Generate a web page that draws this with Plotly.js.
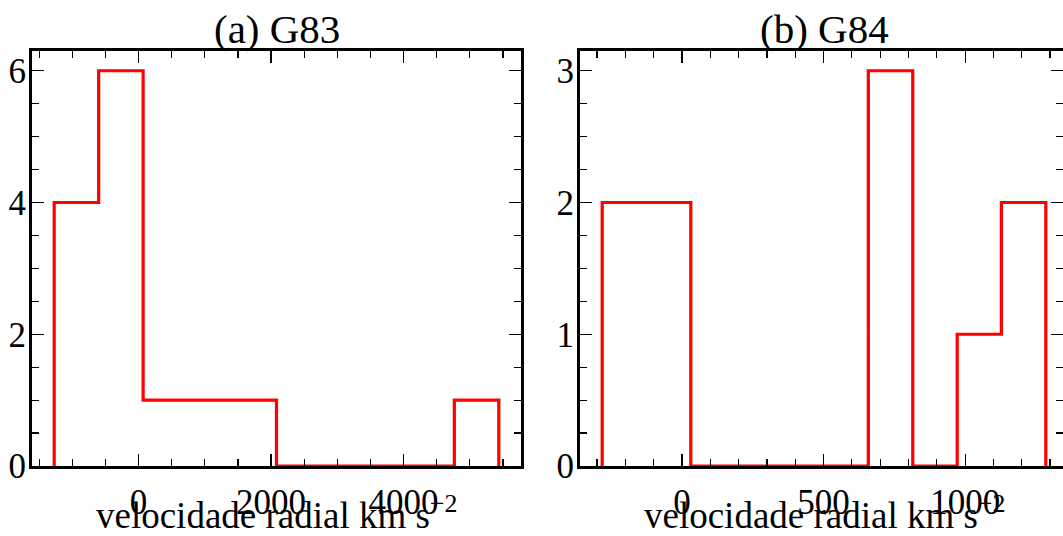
<!DOCTYPE html>
<html><head><meta charset="utf-8">
<script src="https://cdn.plot.ly/plotly-3.0.1.min.js"></script>
<style>html,body{margin:0;padding:0;background:#fff}#chart{width:1063px;height:536px}</style>
</head><body><div id="chart"></div>
<script>
// Histogram bin edges and counts
const g83Edges = [-1273, -602, 69, 740, 1411, 2082, 2753, 3424, 4095, 4766, 5437];
const g83Counts = [4, 6, 1, 1, 1, 0, 0, 0, 0, 1];
const g84Edges = [-282, -125, 31, 188, 345, 502, 658, 815, 972, 1128, 1285];
const g84Counts = [2, 2, 0, 0, 0, 0, 3, 0, 1, 2];
const panelTitles = ['(a) G83', '(b) G84'];
const xLabel = 'velocidade radial km s<sup>−2</sup>';
const g83XTicks = [0, 2000, 4000];
const g84XTicks = [0, 500, 1000];
const g83YTicks = [0, 2, 4, 6];
const g84YTicks = [0, 1, 2, 3];

function stepXY(edges, counts) {
  const x = [edges[0]], y = [0];
  for (let i = 0; i < counts.length; i++) { x.push(edges[i + 1]); y.push(counts[i]); }
  x.push(edges[edges.length - 1]); y.push(0);
  return {x, y};
}

const FONT = "'Liberation Serif', 'DejaVu Serif', serif";
const s1 = stepXY(g83Edges, g83Counts);
const s2 = stepXY(g84Edges, g84Counts);

const traces = [
  {type: 'scatter', mode: 'lines', x: s1.x, y: s1.y, xaxis: 'x', yaxis: 'y',
   line: {color: '#ff0000', width: 3.2, shape: 'vh'}, hoverinfo: 'skip'},
  {type: 'scatter', mode: 'lines', x: s2.x, y: s2.y, xaxis: 'x2', yaxis: 'y2',
   line: {color: '#ff0000', width: 3.2, shape: 'vh'}, hoverinfo: 'skip'}
];

function axisBase(extra) {
  return Object.assign({
    showline: true, linewidth: 3, linecolor: '#000', mirror: 'ticks',
    ticks: 'inside', ticklen: 12, tickwidth: 1.2, tickcolor: '#000',
    showgrid: false, zeroline: false, automargin: false,
    tickfont: {family: FONT, size: 35, color: '#000'}
  }, extra);
}
function minor(d) {
  return {ticks: 'inside', ticklen: 7, tickwidth: 1.2, tickcolor: '#000', dtick: d, tick0: 0, showgrid: false};
}

const W = 1063, H = 536;
const yDom = [(H - 466) / H, (H - 51) / H];
const c1 = (32 + 521) / 2 / W, c2 = (580 + 1068) / 2 / W;
const labelFont = {family: FONT, size: 37, color: '#000'};
const titleFont = {family: FONT, size: 41, color: '#000'};

const layout = {
  width: W, height: H,
  margin: {l: 0, r: 0, t: 0, b: 0},
  paper_bgcolor: '#fff', plot_bgcolor: '#fff',
  showlegend: false,
  font: {family: FONT, color: '#000'},
  xaxis: axisBase({domain: [32 / W, 521 / W], range: [-1608, 5772], anchor: 'y',
    tickmode: 'array', tickvals: g83XTicks, ticktext: g83XTicks.map(String), minor: minor(500),
    ticklabelstandoff: 3}),
  yaxis: axisBase({domain: yDom, range: [0, 6.3], anchor: 'x',
    tickmode: 'array', tickvals: g83YTicks, ticktext: g83YTicks.map(String), minor: minor(0.5),
    ticklabelstandoff: -4}),
  xaxis2: axisBase({domain: [580 / W, 1], range: [-360.4, 1345.7], anchor: 'y2',
    tickmode: 'array', tickvals: g84XTicks, ticktext: g84XTicks.map(String), minor: minor(100),
    ticklabelstandoff: 3}),
  yaxis2: axisBase({domain: yDom, range: [0, 3.15], anchor: 'x2',
    tickmode: 'array', tickvals: g84YTicks, ticktext: g84YTicks.map(String), minor: minor(0.25),
    ticklabelstandoff: -4}),
  annotations: [
    {text: panelTitles[0], xref: 'paper', yref: 'paper', x: c1, y: (H - 29) / H,
     xanchor: 'center', yanchor: 'middle', showarrow: false, font: titleFont},
    {text: panelTitles[1], xref: 'paper', yref: 'paper', x: c2, y: (H - 29) / H,
     xanchor: 'center', yanchor: 'middle', showarrow: false, font: titleFont},
    {text: xLabel, xref: 'paper', yref: 'paper', x: c1, y: (H - 512) / H,
     xanchor: 'center', yanchor: 'middle', showarrow: false, font: labelFont},
    {text: xLabel, xref: 'paper', yref: 'paper', x: c2, y: (H - 512) / H,
     xanchor: 'center', yanchor: 'middle', showarrow: false, font: labelFont}
  ]
};

Plotly.newPlot('chart', traces, layout, {staticPlot: true, displayModeBar: false});
</script>
</body></html>
